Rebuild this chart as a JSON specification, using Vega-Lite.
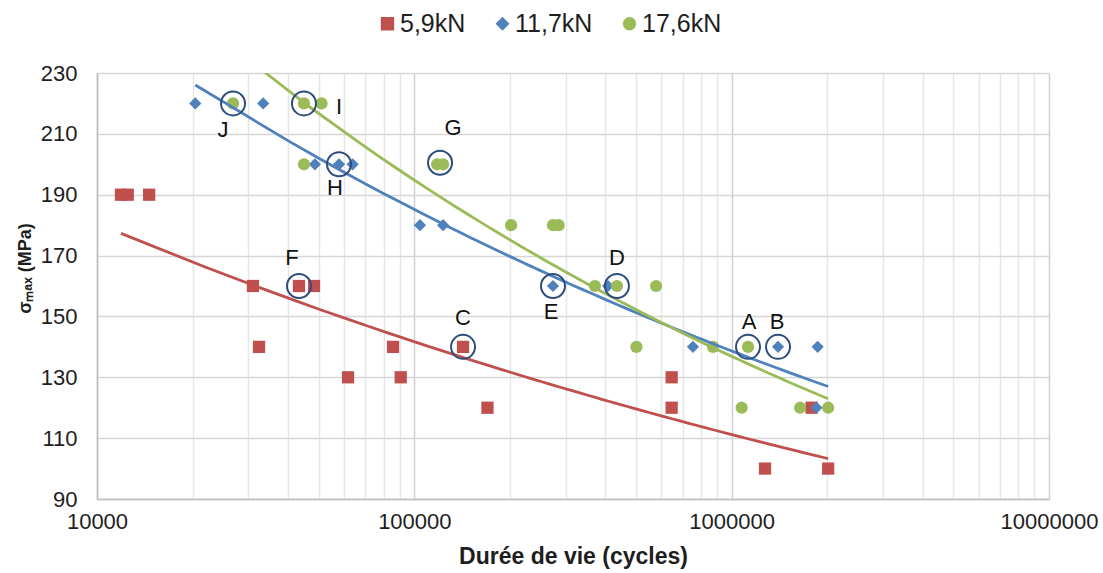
{
  "$schema": "https://vega.github.io/schema/vega-lite/v6.json",
  "autosize": "none",
  "width": 952,
  "height": 426,
  "padding": {"left": 97, "top": 73, "right": 54, "bottom": 74},
  "background": "white",
  "config": {
    "font": "Liberation Sans",
    "view": {"stroke": "#d0d0d0", "strokeWidth": 1},
    "axis": {"labelColor": "#1e1e1e", "titleColor": "#1e1e1e", "ticks": false, "domainColor": "#bdbdbd", "domainWidth": 1.5}
  },
  "datasets": {
    "points": [
      {"series": "5,9kN", "cycles": 11900, "stress": 190},
      {"series": "5,9kN", "cycles": 12500, "stress": 190},
      {"series": "5,9kN", "cycles": 14600, "stress": 190},
      {"series": "5,9kN", "cycles": 31000, "stress": 160},
      {"series": "5,9kN", "cycles": 43300, "stress": 160},
      {"series": "5,9kN", "cycles": 48300, "stress": 160},
      {"series": "5,9kN", "cycles": 32400, "stress": 140},
      {"series": "5,9kN", "cycles": 85700, "stress": 140},
      {"series": "5,9kN", "cycles": 142400, "stress": 140},
      {"series": "5,9kN", "cycles": 61800, "stress": 130},
      {"series": "5,9kN", "cycles": 90600, "stress": 130},
      {"series": "5,9kN", "cycles": 647000, "stress": 130},
      {"series": "5,9kN", "cycles": 170000, "stress": 120},
      {"series": "5,9kN", "cycles": 647000, "stress": 120},
      {"series": "5,9kN", "cycles": 1786000, "stress": 120},
      {"series": "5,9kN", "cycles": 1274000, "stress": 100},
      {"series": "5,9kN", "cycles": 2014000, "stress": 100},
      {"series": "11,7kN", "cycles": 20400, "stress": 220},
      {"series": "11,7kN", "cycles": 33400, "stress": 220},
      {"series": "11,7kN", "cycles": 48600, "stress": 200},
      {"series": "11,7kN", "cycles": 57900, "stress": 200},
      {"series": "11,7kN", "cycles": 63900, "stress": 200},
      {"series": "11,7kN", "cycles": 104200, "stress": 180},
      {"series": "11,7kN", "cycles": 123200, "stress": 180},
      {"series": "11,7kN", "cycles": 273500, "stress": 160},
      {"series": "11,7kN", "cycles": 407700, "stress": 160},
      {"series": "11,7kN", "cycles": 755000, "stress": 140},
      {"series": "11,7kN", "cycles": 1400000, "stress": 140},
      {"series": "11,7kN", "cycles": 1866000, "stress": 140},
      {"series": "11,7kN", "cycles": 1850000, "stress": 120},
      {"series": "11,7kN", "cycles": 2014000, "stress": 120},
      {"series": "17,6kN", "cycles": 26830, "stress": 220},
      {"series": "17,6kN", "cycles": 44900, "stress": 220},
      {"series": "17,6kN", "cycles": 51000, "stress": 220},
      {"series": "17,6kN", "cycles": 44900, "stress": 200},
      {"series": "17,6kN", "cycles": 118000, "stress": 200},
      {"series": "17,6kN", "cycles": 123200, "stress": 200},
      {"series": "17,6kN", "cycles": 201800, "stress": 180},
      {"series": "17,6kN", "cycles": 273500, "stress": 180},
      {"series": "17,6kN", "cycles": 284900, "stress": 180},
      {"series": "17,6kN", "cycles": 370700, "stress": 160},
      {"series": "17,6kN", "cycles": 435000, "stress": 160},
      {"series": "17,6kN", "cycles": 578000, "stress": 160},
      {"series": "17,6kN", "cycles": 501000, "stress": 140},
      {"series": "17,6kN", "cycles": 873000, "stress": 140},
      {"series": "17,6kN", "cycles": 1126000, "stress": 140},
      {"series": "17,6kN", "cycles": 1075000, "stress": 120},
      {"series": "17,6kN", "cycles": 1643000, "stress": 120},
      {"series": "17,6kN", "cycles": 2014000, "stress": 120}
    ],
    "marks": [
      {"label": "A", "cycles": 1126000, "stress": 140, "label_cycles": 1134000, "label_stress": 148.2},
      {"label": "B", "cycles": 1400000, "stress": 140, "label_cycles": 1390000, "label_stress": 148.2},
      {"label": "C", "cycles": 142400, "stress": 140, "label_cycles": 142400, "label_stress": 149.5},
      {"label": "D", "cycles": 435000, "stress": 160, "label_cycles": 435000, "label_stress": 169.2},
      {"label": "E", "cycles": 273500, "stress": 160, "label_cycles": 269800, "label_stress": 151.5},
      {"label": "F", "cycles": 43300, "stress": 160, "label_cycles": 41170, "label_stress": 169.2},
      {"label": "G", "cycles": 120500, "stress": 200.5, "label_cycles": 132400, "label_stress": 211.9},
      {"label": "H", "cycles": 57900, "stress": 200, "label_cycles": 56250, "label_stress": 192.2},
      {"label": "I", "cycles": 44900, "stress": 220, "label_cycles": 57900, "label_stress": 218.8},
      {"label": "J", "cycles": 26830, "stress": 220, "label_cycles": 24950, "label_stress": 211.3}
    ]
  },
  "layer": [
    {
      "data": {"name": "points"},
      "mark": {"type": "point", "filled": true, "opacity": 1, "size": 150},
      "encoding": {
        "x": {
          "field": "cycles", "type": "quantitative", "title": "Durée de vie (cycles)",
          "scale": {"type": "log", "domain": [10000, 10000000], "nice": false},
          "axis": {
            "titleFontSize": 23, "titleFontWeight": "bold", "titlePadding": 13,
            "labelFontSize": 22, "labelPadding": 12, "labelOverlap": false, "labelFlush": false,
            "format": "d",
            "values": [10000, 20000, 30000, 40000, 50000, 60000, 70000, 80000, 90000, 100000, 200000, 300000, 400000, 500000, 600000, 700000, 800000, 900000, 1000000, 2000000, 3000000, 4000000, 5000000, 6000000, 7000000, 8000000, 9000000, 10000000],
            "labelExpr": "abs(log(datum.value)/LN10 - round(log(datum.value)/LN10)) < 0.000001 ? datum.label : ''",
            "grid": true,
            "gridColor": {"condition": {"test": "abs(log(datum.value)/LN10 - round(log(datum.value)/LN10)) < 0.000001", "value": "#cfcfcf"}, "value": "#e6e6e6"},
            "gridWidth": 1.5
          }
        },
        "y": {
          "field": "stress", "type": "quantitative", "title": "σₘₐₓ (MPa)",
          "scale": {"domain": [90, 230], "nice": false, "zero": false},
          "axis": {
            "titleFontSize": 18, "titleFontWeight": "bold", "titlePadding": 6, "titleY": 195,
            "labelFontSize": 22, "labelPadding": 20,
            "values": [90, 110, 130, 150, 170, 190, 210, 230],
            "grid": true, "gridColor": "#d6d6d6", "gridWidth": 1.5
          }
        },
        "color": {
          "field": "series", "type": "nominal",
          "sort": ["5,9kN", "11,7kN", "17,6kN"],
          "scale": {"domain": ["5,9kN", "11,7kN", "17,6kN"], "range": ["#C0504D", "#4F81BD", "#9BBB59"]},
          "legend": {
            "title": null, "orient": "none", "direction": "horizontal",
            "legendX": 278, "legendY": -62,
            "labelFontSize": 25, "labelColor": "#1e1e1e", "labelOffset": 0,
            "columnPadding": 24, "symbolSize": 140, "padding": 0
          }
        },
        "shape": {
          "field": "series", "type": "nominal",
          "sort": ["5,9kN", "11,7kN", "17,6kN"],
          "scale": {"domain": ["5,9kN", "11,7kN", "17,6kN"], "range": ["square", "diamond", "circle"]},
          "legend": {
            "title": null, "orient": "none", "direction": "horizontal",
            "legendX": 278, "legendY": -62,
            "labelFontSize": 25, "labelColor": "#1e1e1e", "labelOffset": 0,
            "columnPadding": 24, "symbolSize": 140, "padding": 0
          }
        }
      }
    },
    {
      "data": {"name": "points"},
      "transform": [
        {"regression": "stress", "on": "cycles", "method": "pow", "groupby": ["series"]}
      ],
      "mark": {"type": "line", "strokeWidth": 2.8, "clip": true},
      "encoding": {
        "x": {"field": "cycles", "type": "quantitative", "title": "Durée de vie (cycles)"},
        "y": {"field": "stress", "type": "quantitative", "title": "σₘₐₓ (MPa)"},
        "color": {"field": "series", "type": "nominal", "legend": null}
      }
    },
    {
      "data": {"name": "marks"},
      "mark": {"type": "point", "shape": "circle", "filled": false, "size": 576, "stroke": "#2E4D7B", "strokeWidth": 2, "opacity": 1},
      "encoding": {
        "x": {"field": "cycles", "type": "quantitative", "title": "Durée de vie (cycles)"},
        "y": {"field": "stress", "type": "quantitative", "title": "σₘₐₓ (MPa)"}
      }
    },
    {
      "data": {"name": "marks"},
      "mark": {"type": "text", "fontSize": 22, "color": "#111111", "align": "center", "baseline": "middle"},
      "encoding": {
        "x": {"field": "label_cycles", "type": "quantitative", "title": "Durée de vie (cycles)"},
        "y": {"field": "label_stress", "type": "quantitative", "title": "σₘₐₓ (MPa)"},
        "text": {"field": "label", "type": "nominal"}
      }
    }
  ]
}
